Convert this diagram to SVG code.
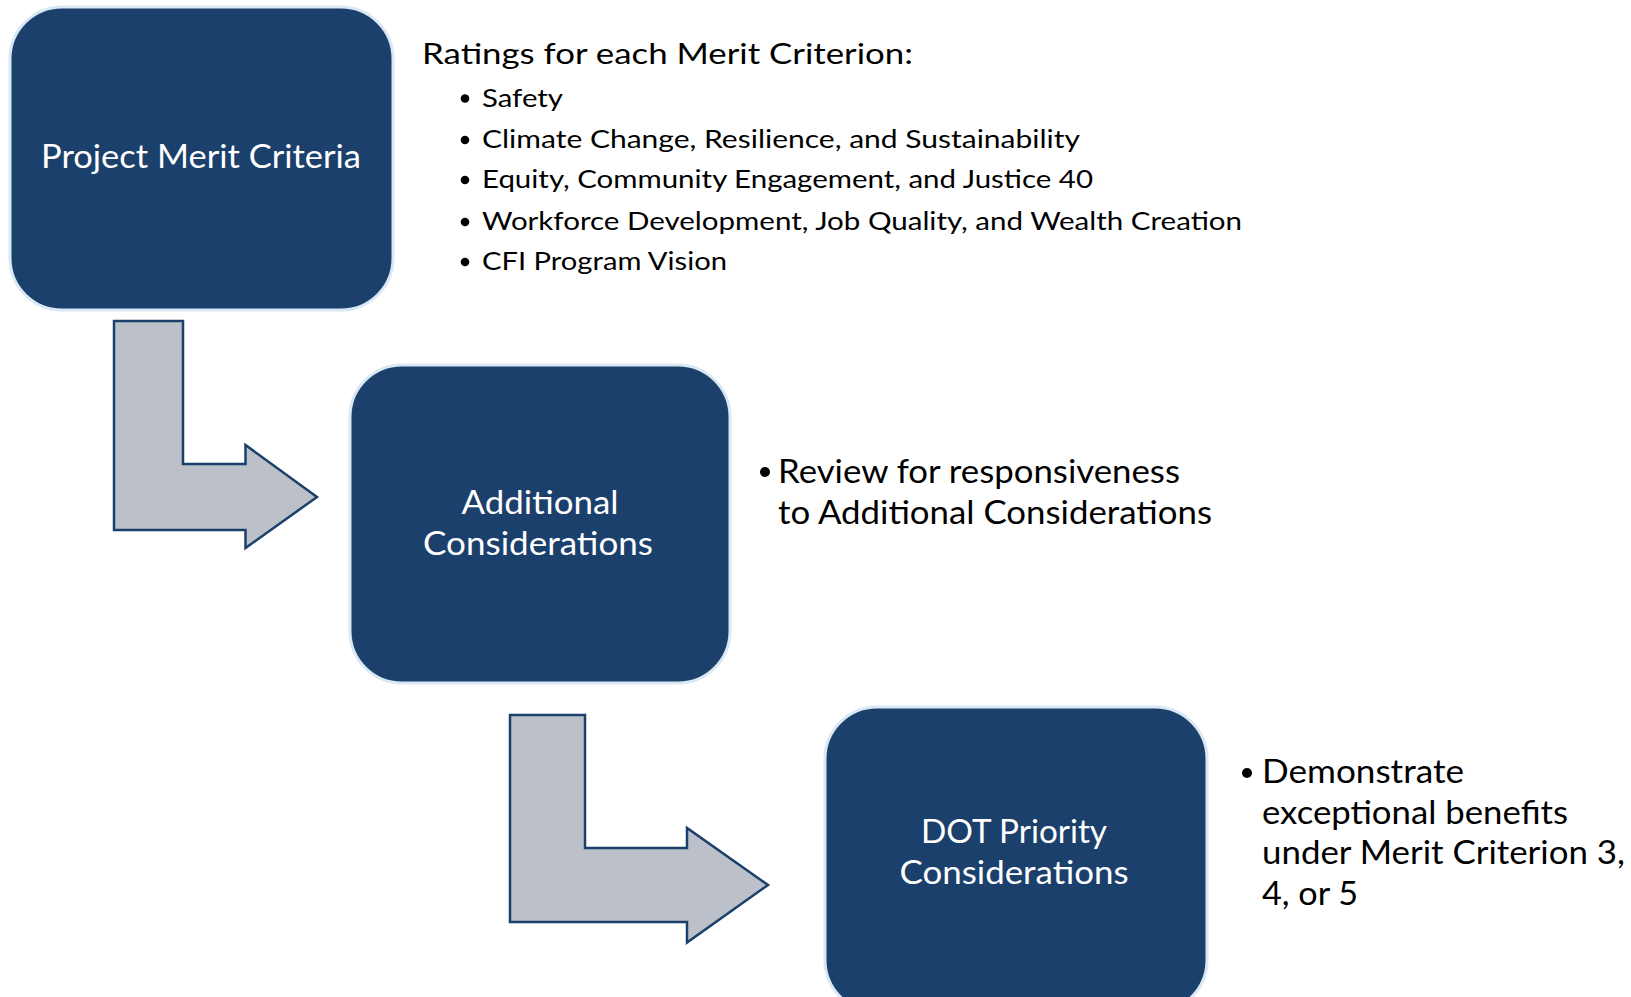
<svg xmlns="http://www.w3.org/2000/svg" width="1631" height="997" viewBox="0 0 1631 997">
<style>
.box{fill:#1b406b;stroke:#d9e8f5;stroke-width:3}
.lbl{font-family:Lato,"Liberation Sans",sans-serif;font-size:32px;fill:#ffffff;text-anchor:middle}
.arr{fill:#bcc1c9;stroke:#1b406b;stroke-width:2.5;stroke-linejoin:miter}
.t{font-family:Lato,"Liberation Sans",sans-serif;fill:#000000}
.title{font-size:28px}
.li{font-size:25.5px}
.big{font-size:32px}
.dot{fill:#000000}
</style>
<rect width="1631" height="997" fill="#ffffff"/>
<g id="connectors">
<path class="arr" d="M114,321 L183,321 L183,464 L245.5,464 L245.5,445 L317,497 L245.5,548 L245.5,530 L114,530 Z"/>
<path class="arr" d="M510,715 L585,715 L585,848 L687,848 L687,828 L768,885 L687,942.5 L687,922 L510,922 Z"/>
</g>
<g id="node-project-merit">
<rect class="box" x="10" y="7" width="383" height="303" rx="52" ry="52"/>
<text class="lbl" x="201" y="168" textLength="320" lengthAdjust="spacingAndGlyphs">Project Merit Criteria</text>
</g>
<g id="node-additional">
<rect class="box" x="350" y="365" width="380" height="318" rx="52" ry="52"/>
<text class="lbl" x="540" y="514" textLength="157" lengthAdjust="spacingAndGlyphs">Additional</text>
<text class="lbl" x="538" y="555" textLength="230" lengthAdjust="spacingAndGlyphs">Considerations</text>
</g>
<g id="node-dot-priority">
<rect class="box" x="825" y="707" width="382" height="305" rx="52" ry="52"/>
<text class="lbl" x="1014" y="843" textLength="186" lengthAdjust="spacingAndGlyphs">DOT Priority</text>
<text class="lbl" x="1014" y="884" textLength="229" lengthAdjust="spacingAndGlyphs">Considerations</text>
</g>
<g id="text-merit-list">
<text class="t title" x="422" y="64" textLength="491" lengthAdjust="spacingAndGlyphs">Ratings for each Merit Criterion:</text>
<circle class="dot" cx="465" cy="98.5" r="4.3"/>
<text class="t li" x="482" y="106.5" textLength="81" lengthAdjust="spacingAndGlyphs">Safety</text>
<circle class="dot" cx="465" cy="140" r="4.3"/>
<text class="t li" x="482" y="148" textLength="598" lengthAdjust="spacingAndGlyphs">Climate Change, Resilience, and Sustainability</text>
<circle class="dot" cx="465" cy="180" r="4.3"/>
<text class="t li" x="482" y="188" textLength="611" lengthAdjust="spacingAndGlyphs">Equity, Community Engagement, and Justice 40</text>
<circle class="dot" cx="465" cy="222" r="4.3"/>
<text class="t li" x="482" y="230" textLength="760" lengthAdjust="spacingAndGlyphs">Workforce Development, Job Quality, and Wealth Creation</text>
<circle class="dot" cx="465" cy="262" r="4.3"/>
<text class="t li" x="482" y="270" textLength="245" lengthAdjust="spacingAndGlyphs">CFI Program Vision</text>
</g>
<g id="text-additional">
<circle class="dot" cx="765" cy="472" r="5"/>
<text class="t big" x="778" y="483" textLength="402" lengthAdjust="spacingAndGlyphs">Review for responsiveness</text>
<text class="t big" x="778" y="524" textLength="434" lengthAdjust="spacingAndGlyphs">to Additional Considerations</text>
</g>
<g id="text-dot">
<circle class="dot" cx="1247" cy="773" r="5"/>
<text class="t big" x="1262" y="783" textLength="202" lengthAdjust="spacingAndGlyphs">Demonstrate</text>
<text class="t big" x="1262" y="823.5" textLength="306" lengthAdjust="spacingAndGlyphs">exceptional benefits</text>
<text class="t big" x="1262" y="864" textLength="363" lengthAdjust="spacingAndGlyphs">under Merit Criterion 3,</text>
<text class="t big" x="1262" y="904.5" textLength="96" lengthAdjust="spacingAndGlyphs">4, or 5</text>
</g>
</svg>
